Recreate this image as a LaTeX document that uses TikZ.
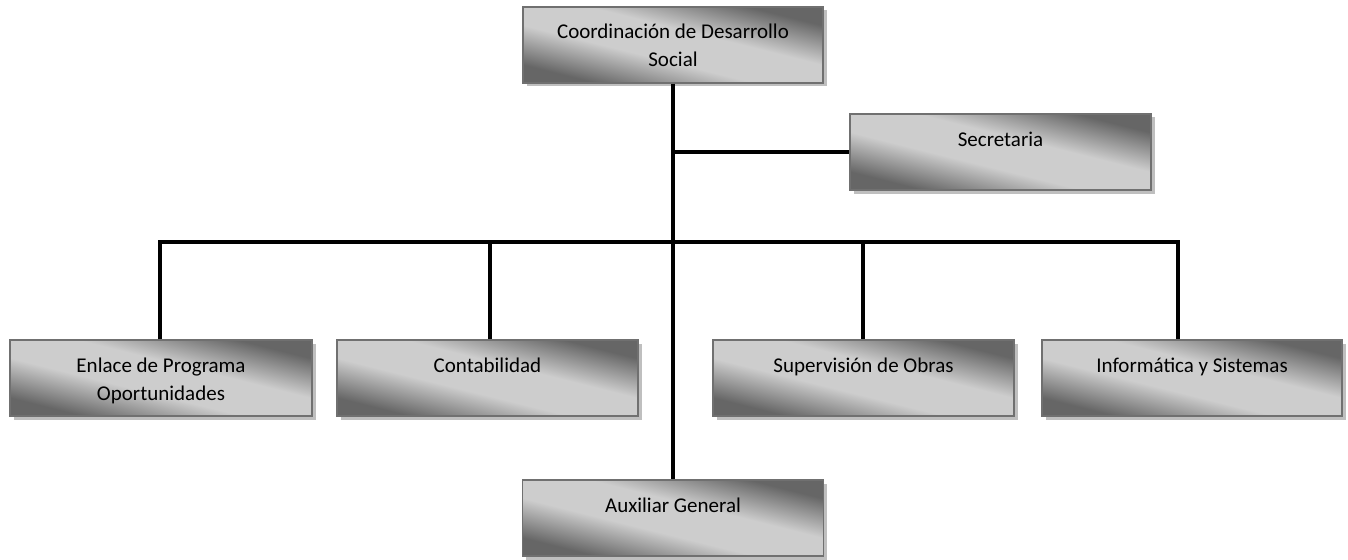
\documentclass[tikz,border=0pt]{standalone}
\usepackage{fontspec}
\setmainfont{Carlito}
\usetikzlibrary{shadows}
\definecolor{dk}{HTML}{666666}
\definecolor{lt}{HTML}{CDCDCD}
\definecolor{bd}{HTML}{707070}
\definecolor{sh}{HTML}{BFBFBF}
\pgfdeclarehorizontalshading{boxgrad}{100bp}{color(0bp)=(dk); color(27bp)=(dk); color(43bp)=(lt); color(57bp)=(lt); color(73bp)=(dk); color(100bp)=(dk)}
\newcommand{\bxt}[2]{\parbox[c][76pt][t]{#1}{\centering\fontsize{21pt}{28pt}\selectfont\rule{0pt}{32pt}#2}}
\tikzset{
  orgbox/.style={draw=bd, line width=1.4pt, inner sep=0pt, shading=boxgrad, shading angle=76,
    drop shadow={shadow xshift=3.5pt, shadow yshift=-3.5pt, fill=sh, opacity=1}},
  link/.style={line width=3.5pt, black}
}
\begin{document}
\begin{tikzpicture}[x=1pt,y=-1pt]
\useasboundingbox (0,0) rectangle (1348,559);
\node[orgbox] (top) at (673,45) {\bxt{300pt}{Coordinación de Desarrollo\\Social}};
\node[orgbox] (sec) at (1000.5,152) {\bxt{301pt}{Secretaria}};
\node[orgbox] (enl) at (161,378) {\bxt{302pt}{Enlace de Programa\\Oportunidades}};
\node[orgbox] (con) at (487.5,378) {\bxt{301pt}{Contabilidad}};
\node[orgbox] (sup) at (863.5,378) {\bxt{301pt}{Supervisión de Obras}};
\node[orgbox] (inf) at (1192,378) {\bxt{300pt}{Informática y Sistemas}};
\node[orgbox] (aux) at (673,518) {\bxt{301pt}{Auxiliar General}};
\coordinate (busL) at (160,242);
\coordinate (busC) at (490,242);
\coordinate (busS) at (863,242);
\coordinate (busR) at (1178,242);
\draw[link] (top.south) -- (aux.north);
\draw[link] (top.south |- sec.west) -- (sec.west);
\draw[link] (busL |- enl.north) -- (busL) -- (busR) -- (busR |- inf.north);
\draw[link] (busC) -- (busC |- con.north);
\draw[link] (busS) -- (busS |- sup.north);
\end{tikzpicture}
\end{document}
